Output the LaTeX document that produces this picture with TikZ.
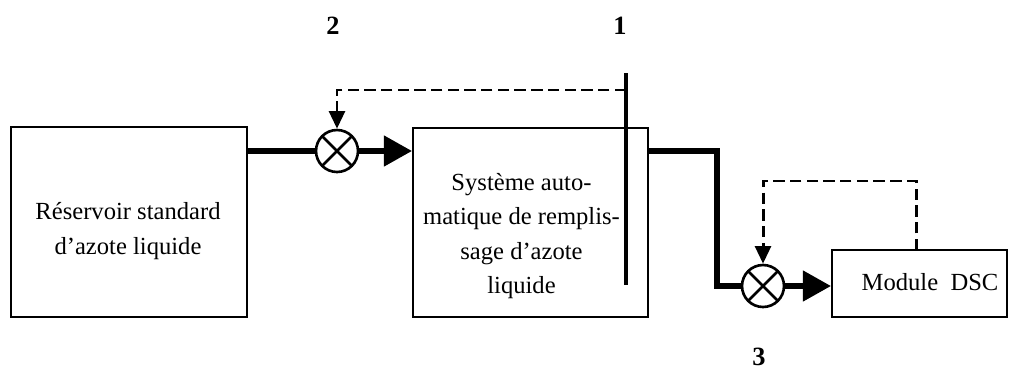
\documentclass[tikz,border=0pt]{standalone}
\usepackage{fontspec}
\setmainfont{Liberation Serif}
\usetikzlibrary{arrows.meta}

\tikzset{
  bloc/.style={draw, line width=1.2pt, inner sep=0pt},
  texte/.style={align=center, inner sep=0pt, font=\fontsize{14}{19.5}\selectfont},
  melangeur/.style={draw, circle, line width=1.5pt, minimum size=0.84cm, inner sep=0pt,
    path picture={\draw[line width=1.5pt]
      (path picture bounding box.north west) -- (path picture bounding box.south east)
      (path picture bounding box.north east) -- (path picture bounding box.south west);}},
  flux/.style={line width=3pt, line join=miter},
  fleche/.style={flux, -{Triangle[length=16pt,width=17pt]}},
  retour/.style={line width=1.7pt, dash pattern=on 6.5pt off 3pt,
    -{Triangle[length=10pt,width=9pt]}},
  repere/.style={font=\fontsize{15}{18}\selectfont\bfseries}
}

\begin{document}
\begin{tikzpicture}[x=0.02cm, y=-0.02cm]
  \useasboundingbox (0,0) rectangle (1010,369);

  % les trois blocs
  \node[bloc, minimum width=4.72cm, minimum height=3.8cm] (res) at (129,222) {};
  \node[bloc, minimum width=4.7cm, minimum height=3.78cm] (sys) at (530.5,222.5) {};
  \node[bloc, minimum width=3.5cm, minimum height=1.34cm] (dsc) at (919.5,283.5) {};

  % textes des blocs
  \node[texte] (res-t) at (128,231) {Réservoir standard\\d’azote liquide};
  \node[texte] (sys-t) at (521.5,236) {Système auto-\\matique de remplis-\\sage d’azote\\liquide};
  \node[texte] (dsc-t) at (930,282) {Module\ \ DSC};

  % les deux mélangeurs
  \node[melangeur] (mix1) at (337,151) {};
  \node[melangeur] (mix2) at (763,286) {};

  % points de passage
  \coordinate (s1haut) at (626,73);
  \coordinate (s1bas) at (626,285);
  \coordinate (tap1) at (626,90);
  \coordinate (coude) at (717,151);
  \coordinate (prise) at (916,250);
  \coordinate (haut2) at (763,181);

  % flux principal
  \draw[flux] (res.east |- mix1) -- (mix1.west);
  \draw[fleche] (mix1.east) -- (sys.west |- mix1);
  \draw[flux] (sys.east |- mix1) -- (coude) |- (mix2.west);
  \draw[fleche] (mix2.east) -- (dsc.west |- mix2);

  % capteur 1
  \draw[line width=2.8pt] (s1haut) -- (s1bas);

  % boucles de retour
  \draw[retour] (tap1) -| (mix1.north);
  \draw[retour] (prise) |- (haut2) -- (mix2.north);

  % reperes
  \node[repere] (n2) at (333,26) {2};
  \node[repere] (n1) at (620,26) {1};
  \node[repere] (n3) at (759,357) {3};
\end{tikzpicture}
\end{document}
